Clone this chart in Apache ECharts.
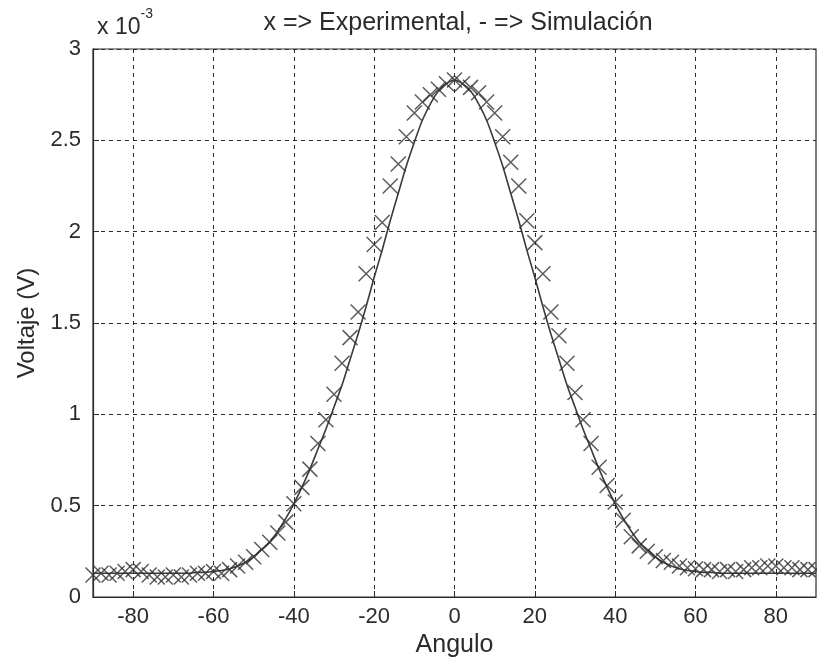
<!DOCTYPE html>
<html>
<head>
<meta charset="utf-8">
<script src="https://cdn.jsdelivr.net/npm/echarts@6/dist/echarts.min.js"></script>
<style>
  html, body { margin: 0; padding: 0; background: #fff; }
  #chart { width: 817px; height: 659px; }
</style>
</head>
<body>
<div id="chart"></div>
<script>
// angles (degrees) for experimental points and simulation curve
const expAngles = [-90,-88,-86,-84,-82,-80,-78,-76,-74,-72,-70,-68,-66,-64,-62,-60,-58,-56,-54,-52,
  -50,-48,-46,-44,-42,-40,-38,-36,-34,-32,-30,-28,-26,-24,-22,-20,-18,-16,-14,-12,-10,-8,-6,-4,-2,
  0,2,4,6,8,10,12,14,16,18,20,22,24,26,28,30,32,34,36,38,40,42,44,46,48,50,52,54,56,58,60,
  62,64,66,68,70,72,74,76,78,80,82,84,86,88,90];

// experimental voltage, x 10^-3 V
const expValues = [0.12,0.13,0.12,0.13,0.14,0.15,0.14,0.12,0.11,0.11,0.12,0.11,0.12,0.13,0.13,0.14,0.13,0.15,0.17,0.19,
  0.22,0.26,0.30,0.35,0.41,0.51,0.60,0.70,0.84,0.97,1.11,1.28,1.42,1.56,1.77,1.93,2.05,2.25,2.37,2.52,2.65,2.71,2.75,2.78,2.81,
  2.83,2.81,2.79,2.76,2.71,2.65,2.52,2.38,2.25,2.06,1.94,1.77,1.56,1.43,1.28,1.12,0.97,0.84,0.71,0.61,0.52,0.42,0.33,0.28,0.25,
  0.22,0.20,0.19,0.17,0.16,0.155,0.15,0.15,0.14,0.15,0.14,0.15,0.16,0.16,0.17,0.17,0.16,0.16,0.15,0.15,0.15];

const simAngles = expAngles;

// simulated voltage, x 10^-3 V
const simValues = [0.13,0.13,0.13,0.13,0.13,0.13,0.13,0.13,0.13,0.13,0.13,0.13,0.13,0.135,0.135,0.14,0.145,0.155,0.17,0.19,
  0.22,0.26,0.30,0.36,0.43,0.51,0.60,0.70,0.81,0.92,1.04,1.16,1.30,1.44,1.59,1.75,1.90,2.06,2.21,2.36,2.49,2.61,2.70,2.77,2.81,
  2.83,2.81,2.77,2.70,2.61,2.49,2.36,2.21,2.06,1.90,1.75,1.59,1.44,1.30,1.16,1.04,0.92,0.81,0.70,0.60,0.51,0.43,0.36,0.30,0.26,
  0.22,0.19,0.17,0.155,0.145,0.14,0.135,0.135,0.13,0.13,0.13,0.13,0.13,0.13,0.13,0.13,0.13,0.13,0.13,0.13,0.13];

const xTicks = [-80, -60, -40, -20, 0, 20, 40, 60, 80];

const FONT = '"Liberation Sans Narrow", "Liberation Sans", Arial, sans-serif';
const INK = '#2b2b2b';

const chart = echarts.init(document.getElementById('chart'), null, { renderer: 'canvas' });

const expData = expAngles.map((a, i) => [a, expValues[i]]);
const simData = simAngles.map((a, i) => [a, simValues[i]]);

chart.setOption({
  backgroundColor: '#fff',
  animation: false,
  title: [
    {
      text: 'x => Experimental, - => Simulación',
      left: 453,
      textAlign: 'center',
      top: 6,
      textStyle: { fontFamily: FONT, fontSize: 25, fontWeight: 'normal', color: INK }
    },
    {
      text: '{a|x 10}{b|-3}',
      left: 92,
      top: 2,
      textStyle: {
        rich: {
          a: { fontFamily: FONT, fontSize: 23, fontWeight: 'normal', color: INK, padding: [9, 0, 0, 0] },
          b: { fontFamily: FONT, fontSize: 14, fontWeight: 'normal', color: INK, verticalAlign: 'top' }
        }
      }
    }
  ],
  grid: {
    left: 93,
    right: 1,
    top: 49,
    bottom: 62,
    outerBoundsMode: 'none',
    containLabel: false,
    show: true,
    borderColor: INK,
    borderWidth: 1.2,
    backgroundColor: 'transparent'
  },
  xAxis: {
    type: 'value',
    min: -90,
    max: 90,
    name: 'Angulo',
    nameLocation: 'middle',
    nameGap: 36,
    nameTextStyle: { fontFamily: FONT, fontSize: 25, color: INK },
    axisLine: { onZero: false, lineStyle: { color: INK, width: 1.2 } },
    axisTick: { inside: true, length: 6, customValues: xTicks, lineStyle: { color: INK } },
    axisLabel: { customValues: xTicks, margin: 9, fontFamily: FONT, fontSize: 22, color: INK },
    splitLine: { show: false }
  },
  yAxis: {
    type: 'value',
    min: 0,
    max: 3,
    interval: 0.5,
    name: 'Voltaje (V)',
    nameLocation: 'middle',
    nameGap: 50,
    nameTextStyle: { fontFamily: FONT, fontSize: 24, color: INK },
    axisLine: { onZero: false, lineStyle: { color: INK, width: 1.2 } },
    axisTick: { inside: true, length: 6, lineStyle: { color: INK } },
    axisLabel: { margin: 12, fontFamily: FONT, fontSize: 22, color: INK },
    splitLine: { show: true, lineStyle: { color: INK, type: [4, 4], width: 1 } }
  },
  series: [
    {
      name: 'Simulación',
      type: 'line',
      data: simData,
      showSymbol: false,
      smooth: 0.3,
      lineStyle: { color: '#3a3a3a', width: 1.6 },
      z: 3,
      markLine: {
        silent: true,
        symbol: 'none',
        label: { show: false },
        lineStyle: { color: INK, type: [4, 4], width: 1 },
        data: xTicks.map(v => ({ xAxis: v }))
      }
    },
    {
      name: 'Experimental',
      type: 'scatter',
      data: expData,
      symbol: 'path://M0,0L20,20M20,0L0,20',
      symbolSize: 15,
      itemStyle: { color: 'rgba(0,0,0,0)', borderColor: '#333', borderWidth: 1.5 },
      z: 4
    }
  ]
});
</script>
</body>
</html>
